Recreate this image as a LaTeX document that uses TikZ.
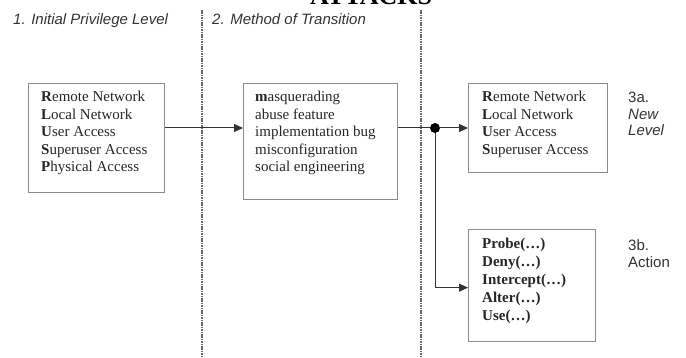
\documentclass[tikz,border=0pt]{standalone}
\usepackage{fontspec}
\setmainfont{Liberation Serif}
\setsansfont{Liberation Sans}
\usetikzlibrary{arrows.meta}
\definecolor{boxgray}{gray}{0.55}
\definecolor{sepgray}{gray}{0.40}
\definecolor{linegray}{gray}{0.20}
\definecolor{txt}{gray}{0.15}
\tikzset{
  box/.style={draw=boxgray, line width=1.3pt, rectangle, inner sep=0pt, anchor=north west},
  boxtext/.style={anchor=north west, inner sep=0pt, align=left, text=txt,
    font=\fontsize{15}{17.5}\selectfont},
  headlab/.style={anchor=base west, inner sep=0pt, text=linegray,
    font=\sffamily\itshape\fontsize{15}{16}\selectfont},
  sidelab/.style={anchor=north west, inner sep=0pt, align=left, text=linegray,
    font=\sffamily\fontsize{15}{16.5}\selectfont},
  sep/.style={draw=sepgray, line width=1.2pt, dash pattern=on 1.6pt off 0.8pt},
  conn/.style={draw=linegray, line width=1pt},
  arr/.style={conn, -{Triangle[length=9pt,width=8pt]}},
  junction/.style={circle, fill=black, inner sep=0pt, minimum size=10pt}
}
\begin{document}
\begin{tikzpicture}[x=1pt, y=-1pt]
\useasboundingbox (0,0) rectangle (686,358);
\clip (0,0) rectangle (686,358);

% title (cut off at the top)
\node[anchor=base west, inner sep=0pt, font=\bfseries\fontsize{26}{26}\selectfont] (title) at (310,5) {ATTACKS};

% column headers
\node[headlab] (h1) at (13,25) {1. Initial Privilege Level};
\node[headlab] (h2) at (212,25) {2. Method of Transition};

% separators
\draw[sep] (202,10) -- (202,358);
\draw[sep] (421,10) -- (421,358);

% boxes
\node[box, minimum width=136pt, minimum height=109pt] (b1) at (28,83) {};
\node[box, minimum width=154pt, minimum height=116pt] (b2) at (243,83) {};
\node[box, minimum width=139pt, minimum height=89pt] (b3a) at (468,83) {};
\node[box, minimum width=127pt, minimum height=112pt] (b3b) at (468,229) {};

% box texts
\node[boxtext] (t1) at (41,91) {\textbf{R}emote Network\\\textbf{L}ocal Network\\\textbf{U}ser Access\\\textbf{S}uperuser Access\\\textbf{P}hysical Access};
\node[boxtext] (t2) at (255,91) {\textbf{m}asquerading\\abuse feature\\implementation bug\\misconfiguration\\social engineering};
\node[boxtext] (t3a) at (482,91) {\textbf{R}emote Network\\\textbf{L}ocal Network\\\textbf{U}ser Access\\\textbf{S}uperuser Access};
\node[boxtext, font=\bfseries\fontsize{15}{18}\selectfont] (t3b) at (482,238) {Probe(…)\\Deny(…)\\Intercept(…)\\Alter(…)\\Use(…)};

% side labels
\node[sidelab] (l3a) at (628,92) {3a.\\\textit{New}\\\textit{Level}};
\node[sidelab, font=\sffamily\fontsize{15}{17}\selectfont] (l3b) at (628,239) {3b.\\Action};

% junction dot
\node[junction] (dot) at (435,128) {};

% connectors
\draw[arr] (b1.east |- dot) -- (b2.west |- dot);
\draw[conn] (b2.east |- dot) -- (dot);
\draw[arr] (dot) -- (b3a.west |- dot);
\draw[arr] (dot) |- ([yshift=-2pt]b3b.west);
\end{tikzpicture}
\end{document}
